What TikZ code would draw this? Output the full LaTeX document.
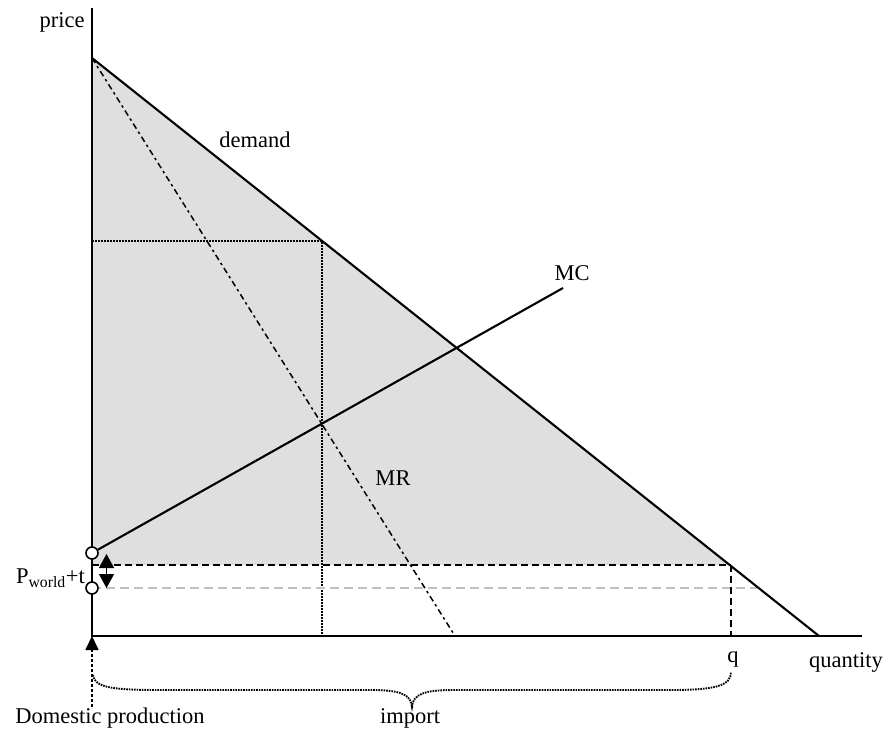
\documentclass[tikz,border=0pt]{standalone}
\usepackage{fontspec}
\setmainfont{Liberation Serif}
\usetikzlibrary{arrows.meta}
\begin{document}
\begin{tikzpicture}[x=1pt,y=-1pt,
  lbl/.style={font=\fontsize{22.5}{26}\selectfont, inner sep=0pt},
  solidln/.style={line width=2.1pt},
  dotln/.style={dash pattern=on 2pt off 1pt, line width=2.2pt},
  mrln/.style={line width=1.5pt, dash pattern=on 6pt off 3.5pt on 2.5pt off 3.5pt},
  blackdash/.style={line width=1.6pt, dash pattern=on 7pt off 4pt},
  graydash/.style={line width=1.2pt, gray!50, dash pattern=on 9pt off 5pt},
  ring/.style={circle, draw, fill=white, line width=1.6pt, minimum size=12pt, inner sep=0pt}
]
\useasboundingbox (0,0) rectangle (888,735);
% key coordinates
\coordinate (O) at (92,636);
\coordinate (ytop) at (92,8);
\coordinate (xend) at (862,636);
\coordinate (dTop) at (92,58);
\coordinate (dEnd) at (819,636);
\coordinate (dQ) at (730,565);
\coordinate (dW) at (757,588);
\coordinate (dM) at (322,240.8);
\coordinate (pT) at (92,565);
\coordinate (pW) at (92,588);
\coordinate (pM) at (92,240.8);
\coordinate (mBot) at (322,636);
\coordinate (qBot) at (731,636);
\coordinate (qTop) at (731,565);
\coordinate (mrEnd) at (455,636);
\coordinate (mcEnd) at (563,288);
% shaded area
\fill[gray!25] (dTop) -- (dQ) -- (pT) -- cycle;
% dotted monopoly lines
\draw[dotln] (pM) -- (dM) -- (mBot);
% MR
\draw[mrln] (dTop) -- (mrEnd);
% dashed price lines
\draw[graydash] (pW) -- (dW);
\draw[blackdash] (pT) -- (qTop);
\draw[blackdash, line width=2.6pt] (qTop) -- (qBot);
% demand
\draw[solidln] (dTop) -- (dEnd);
% axes
\draw[solidln] (ytop) -- (O) -- (xend);
% MC with circles
\node[ring] (c1) at (92,553) {};
\node[ring] (c2) at (pW) {};
\draw[solidln] (c1) -- (mcEnd);
% double arrow
\coordinate (aTop) at (106.5,554);
\coordinate (aBot) at (106.5,588);
\draw[line width=1.4pt, {Triangle[length=14pt,width=15pt]}-{Triangle[length=14pt,width=15pt]}] (aTop) -- (aBot);
% domestic production arrow
\coordinate (dpBot) at (92,707);
\draw[dash pattern=on 3pt off 2pt, line width=1.7pt, -{Triangle[length=14pt,width=13pt]}] (dpBot) -- (O);
% brace
\coordinate (bL) at (93,675);
\coordinate (bR) at (731,672);
\coordinate (bTip) at (412,707);
\draw[dash pattern=on 1.6pt off 1pt, line width=1.9pt] (bL) .. controls (94,688) and (115,690) .. (160,690) -- (370,690)
  .. controls (400,690) and (411,694) .. (bTip)
  .. controls (413,694) and (424,690) .. (454,690) -- (670,690)
  .. controls (715,690) and (731,686) .. (bR);
% labels
\node[lbl] (price) at (62,22) {price};
\node[lbl] (demand) at (255,140) {demand};
\node[lbl] (mc) at (572,273) {MC};
\node[lbl] (mr) at (393,478) {MR};
\node[lbl, anchor=east] (pw) at (85,578) {P\textsubscript{world}+t};
\node[lbl] (q) at (733,659) {q};
\node[lbl] (quantity) at (846,662) {quantity};
\node[lbl] (domestic) at (110,718) {Domestic production};
\node[lbl] (import) at (410,718) {import};
\end{tikzpicture}
\end{document}
